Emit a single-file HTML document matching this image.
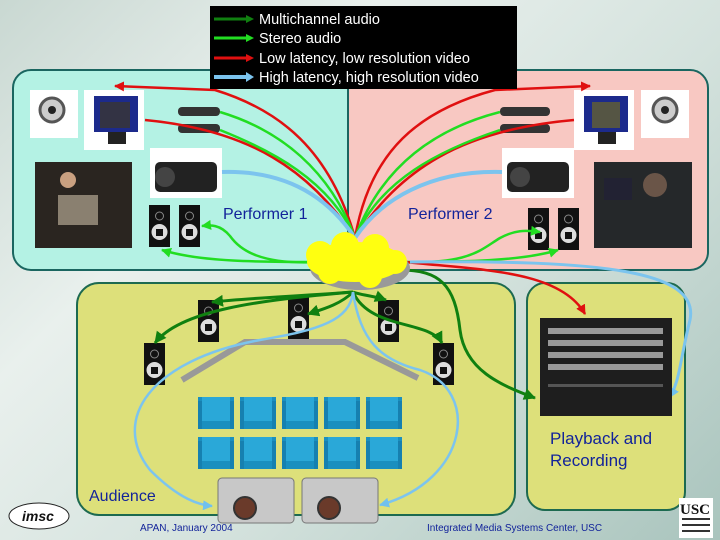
<!DOCTYPE html>
<html><head><meta charset="utf-8"><style>
body{margin:0;width:720px;height:540px;overflow:hidden;background:linear-gradient(135deg,#c9d8d2 0%,#e9f0ed 30%,#d4e2dd 60%,#a9c4bd 100%);font-family:"Liberation Sans",sans-serif}
svg{position:absolute;left:0;top:0}
</style></head><body>
<svg width="720" height="540" viewBox="0 0 720 540">
<defs>
<marker id="ar" markerUnits="userSpaceOnUse" markerWidth="10" markerHeight="10" refX="9" refY="5" orient="auto"><path d="M0,0L10,5L0,10z" fill="#e01010"/></marker>
<marker id="ag" markerUnits="userSpaceOnUse" markerWidth="10" markerHeight="10" refX="9" refY="5" orient="auto"><path d="M0,0L10,5L0,10z" fill="#22dd22"/></marker>
<marker id="adg" markerUnits="userSpaceOnUse" markerWidth="12" markerHeight="12" refX="11" refY="6" orient="auto"><path d="M0,0L12,6L0,12z" fill="#108010"/></marker>
<marker id="ab" markerUnits="userSpaceOnUse" markerWidth="10" markerHeight="10" refX="9" refY="5" orient="auto"><path d="M0,0L10,5L0,10z" fill="#70c0ee"/></marker>
<g id="spk"><rect x="0" y="0" width="21" height="42" fill="#111"/><circle cx="10.5" cy="11" r="4" fill="none" stroke="#888"/><circle cx="10.5" cy="27" r="8" fill="#ddd"/><rect x="7" y="24" width="7" height="7" fill="#111"/></g>
<g id="seat"><rect x="0" y="0" width="36" height="32" fill="#1a8fbf"/><rect x="4" y="0" width="28" height="24" fill="#2aa8d8"/><rect x="0" y="4" width="4" height="28" fill="#1680b0"/><rect x="32" y="4" width="4" height="28" fill="#1680b0"/></g>
</defs>
<rect x="13" y="70" width="345" height="200" rx="18" fill="#b4f2e4" stroke="#1a6660" stroke-width="2"/>
<rect x="348" y="70" width="360" height="200" rx="18" fill="#f8c8c2" stroke="#1a6660" stroke-width="2"/>
<line x1="348" y1="90" x2="348" y2="225" stroke="#1a6660" stroke-width="2"/>
<rect x="77" y="283" width="438" height="232" rx="22" fill="#dde07a" stroke="#1d6a50" stroke-width="2"/>
<rect x="527" y="283" width="158" height="227" rx="18" fill="#dde07a" stroke="#1d6a50" stroke-width="2"/>
<rect x="30" y="90" width="48" height="48" fill="#fff"/><circle cx="52" cy="110" r="12" fill="#ccc" stroke="#555" stroke-width="3"/><circle cx="52" cy="110" r="4" fill="#222"/>
<rect x="84" y="90" width="60" height="60" fill="#fff"/><rect x="94" y="96" width="44" height="36" fill="#1c2a8c"/><rect x="100" y="102" width="30" height="26" fill="#334"/><rect x="108" y="132" width="18" height="12" fill="#222"/>
<rect x="150" y="148" width="72" height="50" fill="#fff"/><rect x="155" y="162" width="62" height="30" rx="5" fill="#222"/><circle cx="165" cy="177" r="10" fill="#444"/>
<rect x="35" y="162" width="97" height="86" fill="#2a2520"/><circle cx="68" cy="180" r="8" fill="#c9a080"/><rect x="58" y="195" width="40" height="30" fill="#8a8070"/>
<use href="#spk" x="149" y="205"/><use href="#spk" x="179" y="205"/>
<rect x="178" y="107" width="42" height="9" rx="4" fill="#333"/><rect x="178" y="124" width="42" height="9" rx="4" fill="#333"/>
<rect x="641" y="90" width="48" height="48" fill="#fff"/><circle cx="665" cy="110" r="12" fill="#ccc" stroke="#555" stroke-width="3"/><circle cx="665" cy="110" r="4" fill="#222"/>
<rect x="574" y="90" width="60" height="60" fill="#fff"/><rect x="584" y="96" width="44" height="36" fill="#1c2a8c"/><rect x="592" y="102" width="28" height="26" fill="#554"/><rect x="598" y="132" width="18" height="12" fill="#222"/>
<rect x="502" y="148" width="72" height="50" fill="#fff"/><rect x="507" y="162" width="62" height="30" rx="5" fill="#222"/><circle cx="520" cy="177" r="10" fill="#444"/>
<rect x="594" y="162" width="98" height="86" fill="#25282a"/><circle cx="655" cy="185" r="12" fill="#6a5548"/><rect x="604" y="178" width="28" height="22" fill="#223"/>
<use href="#spk" x="528" y="208"/><use href="#spk" x="558" y="208"/>
<rect x="500" y="107" width="50" height="9" rx="4" fill="#333"/><rect x="500" y="124" width="50" height="9" rx="4" fill="#333"/>
<g fill="none" stroke-width="2.5">
<path d="M355,238 C330,150 280,110 215,90 L115,86" stroke="#e01010" marker-end="url(#ar)"/>
<path d="M355,238 C310,170 250,130 145,120" stroke="#e01010"/>
<path d="M355,238 C330,170 280,130 220,112" stroke="#22dd22"/>
<path d="M355,238 C330,180 270,150 220,130" stroke="#22dd22"/>
<path d="M355,238 C330,200 290,170 222,172" stroke="#7cc4ee" stroke-width="4"/>
<path d="M320,262 C260,265 240,250 230,236 C220,224 210,225 202,226" stroke="#22dd22" marker-end="url(#ag)"/>
<path d="M320,262 C260,262 200,262 162,250" stroke="#22dd22" marker-end="url(#ag)"/>
<path d="M355,238 C370,150 420,110 495,90 L590,86" stroke="#e01010" marker-end="url(#ar)"/>
<path d="M355,238 C400,170 460,130 574,120" stroke="#e01010"/>
<path d="M355,238 C380,170 430,130 500,112" stroke="#22dd22"/>
<path d="M355,238 C380,180 440,150 500,130" stroke="#22dd22"/>
<path d="M355,238 C380,200 430,170 502,172" stroke="#7cc4ee" stroke-width="4"/>
<path d="M395,262 C470,265 480,250 500,238 C515,230 525,230 540,232" stroke="#22dd22" marker-end="url(#ag)"/>
<path d="M395,262 C450,262 520,262 558,250" stroke="#22dd22" marker-end="url(#ag)"/>
<path d="M405,262 C480,270 560,270 585,314" stroke="#e01010" marker-end="url(#ar)"/>
<path d="M410,262 C600,260 700,270 690,320 C680,360 680,380 670,397" stroke="#7cc4ee" stroke-width="3" marker-end="url(#ab)"/>
<path d="M400,270 C440,270 455,285 460,330 C465,370 500,385 535,398" stroke="#108010" stroke-width="3" marker-end="url(#adg)"/>
</g>
<g fill="#999"><ellipse cx="360" cy="268" rx="50" ry="22"/></g>
<g fill="#ffff10"><ellipse cx="355" cy="262" rx="48" ry="20"/><circle cx="320" cy="255" r="14"/><circle cx="345" cy="246" r="14"/><circle cx="375" cy="248" r="14"/><circle cx="395" cy="262" r="12"/><circle cx="330" cy="272" r="12"/><circle cx="370" cy="276" r="12"/></g>
<path d="M182,380 L245,342 L345,342 L418,378" fill="none" stroke="#999" stroke-width="6"/>
<use href="#spk" x="198" y="300"/><use href="#spk" x="288" y="297"/><use href="#spk" x="378" y="300"/><use href="#spk" x="144" y="343"/><use href="#spk" x="433" y="343"/>
<g fill="none" stroke="#108010" stroke-width="3">
<path d="M353,292 C300,296 250,298 212,302" marker-end="url(#adg)"/>
<path d="M353,292 C360,295 375,296 386,300" marker-end="url(#adg)"/>
<path d="M353,292 C340,305 320,310 308,314" marker-end="url(#adg)"/>
<path d="M353,292 C260,300 180,310 155,343" marker-end="url(#adg)"/>
<path d="M353,292 C370,330 430,320 442,343" marker-end="url(#adg)"/>
</g>
<g fill="none" stroke="#7cc4ee" stroke-width="2.5">
<path d="M353,292 C350,320 320,330 260,340 C150,360 110,420 150,470 C180,500 200,505 212,506" marker-end="url(#ab)"/>
<path d="M353,292 C360,340 380,360 420,370 C480,390 470,480 380,505" marker-end="url(#ab)"/>
</g>
<g><use href="#seat" x="198" y="397"/><use href="#seat" x="240" y="397"/><use href="#seat" x="282" y="397"/><use href="#seat" x="324" y="397"/><use href="#seat" x="366" y="397"/>
<use href="#seat" x="198" y="437"/><use href="#seat" x="240" y="437"/><use href="#seat" x="282" y="437"/><use href="#seat" x="324" y="437"/><use href="#seat" x="366" y="437"/></g>
<g><rect x="218" y="478" width="76" height="45" rx="4" fill="#c8c8c8" stroke="#777"/><circle cx="245" cy="508" r="11" fill="#6a3a2a" stroke="#333" stroke-width="2"/>
<rect x="302" y="478" width="76" height="45" rx="4" fill="#c8c8c8" stroke="#777"/><circle cx="329" cy="508" r="11" fill="#6a3a2a" stroke="#333" stroke-width="2"/></g>
<rect x="540" y="318" width="132" height="98" fill="#1e1e1e"/>
<g fill="#999"><rect x="548" y="328" width="115" height="6"/><rect x="548" y="340" width="115" height="6"/><rect x="548" y="352" width="115" height="6"/><rect x="548" y="364" width="115" height="6"/><rect x="548" y="384" width="115" height="3" fill="#555"/></g>
<text x="550" y="444" font-size="17" fill="#12239a">Playback and</text>
<text x="550" y="466" font-size="17" fill="#12239a">Recording</text>
<text x="89" y="501" font-size="16" fill="#12239a">Audience</text>
<text x="223" y="219" font-size="16" fill="#12239a">Performer 1</text>
<text x="408" y="219" font-size="16" fill="#12239a">Performer 2</text>
<text x="140" y="531" font-size="10" fill="#12239a">APAN, January 2004</text>
<text x="427" y="531" font-size="10" fill="#12239a">Integrated Media Systems Center, USC</text>
<ellipse cx="39" cy="516" rx="30" ry="13" fill="#fff" stroke="#222"/>
<text x="22" y="521" font-size="14" font-weight="bold" font-style="italic" fill="#111">imsc</text>
<rect x="679" y="498" width="34" height="40" fill="#fff"/>
<text x="680" y="514" font-size="15" font-weight="bold" font-family="Liberation Serif" fill="#111">USC</text>
<rect x="682" y="518" width="28" height="2" fill="#333"/><rect x="682" y="524" width="28" height="2" fill="#333"/><rect x="682" y="530" width="28" height="2" fill="#333"/>
<rect x="210" y="6" width="307" height="83" fill="#000"/>
<g stroke-width="3">
<line x1="214" y1="19" x2="247" y2="19" stroke="#108010"/><path d="M246,15L254,19L246,23z" fill="#108010"/>
<line x1="214" y1="38" x2="247" y2="38" stroke="#22dd22"/><path d="M246,34L254,38L246,42z" fill="#22dd22"/>
<line x1="214" y1="58" x2="247" y2="58" stroke="#e01010"/><path d="M246,54L254,58L246,62z" fill="#e01010"/>
<line x1="214" y1="77" x2="247" y2="77" stroke="#7cc4ee" stroke-width="4"/><path d="M246,72L254,77L246,82z" fill="#7cc4ee"/>
</g>
<g fill="#fff" font-size="14.5"><text x="259" y="24">Multichannel audio</text><text x="259" y="43">Stereo audio</text><text x="259" y="63">Low latency, low resolution video</text><text x="259" y="82">High latency, high resolution video</text></g>
</svg>
</body></html>
